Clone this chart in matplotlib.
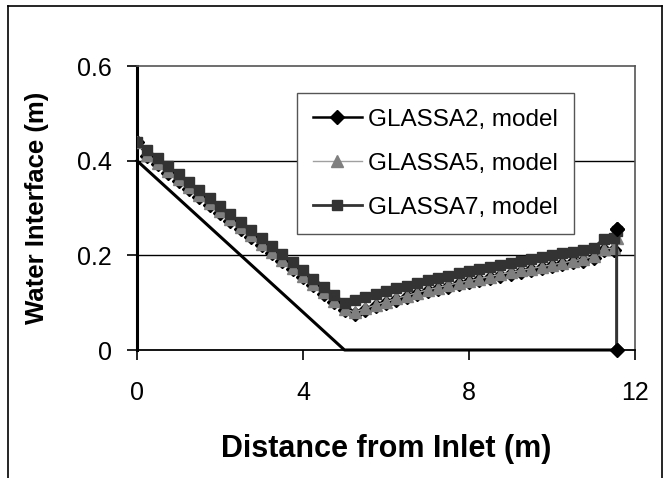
import matplotlib
matplotlib.use("Agg")
import matplotlib.pyplot as plt
from matplotlib.lines import Line2D

plt.rcParams['font.family'] = ['Liberation Sans', 'DejaVu Sans']

# distance from inlet (m)
dist = [0.0, 0.25, 0.5, 0.75, 1.0, 1.25, 1.5, 1.75, 2.0, 2.25, 2.5, 2.75, 3.0, 3.25,
        3.5, 3.75, 4.0, 4.25, 4.5, 4.75, 5.0, 5.25, 5.5, 5.75, 6.0, 6.25, 6.5, 6.75,
        7.0, 7.25, 7.5, 7.75, 8.0, 8.25, 8.5, 8.75, 9.0, 9.25, 9.5, 9.75, 10.0, 10.25,
        10.5, 10.75, 11.0, 11.25, 11.5, 11.56, 11.56]

glassa7 = [0.440, 0.423, 0.406, 0.389, 0.372, 0.355, 0.338, 0.321, 0.304, 0.287,
           0.270, 0.253, 0.236, 0.219, 0.202, 0.185, 0.168, 0.151, 0.134, 0.117,
           0.100, 0.105, 0.112, 0.118, 0.124, 0.130, 0.136, 0.142, 0.147, 0.152,
           0.157, 0.162, 0.166, 0.171, 0.175, 0.180, 0.184, 0.188, 0.192, 0.196,
           0.200, 0.204, 0.208, 0.212, 0.216, 0.235, 0.236, 0.252, 0.0]

glassa5 = [0.440, 0.413, 0.395, 0.378, 0.361, 0.344, 0.327, 0.310, 0.293, 0.276,
           0.259, 0.242, 0.225, 0.208, 0.191, 0.174, 0.157, 0.140, 0.122, 0.104,
           0.087, 0.080, 0.088, 0.095, 0.102, 0.109, 0.115, 0.121, 0.127, 0.132,
           0.137, 0.142, 0.146, 0.151, 0.155, 0.160, 0.164, 0.168, 0.172, 0.176,
           0.180, 0.184, 0.188, 0.192, 0.198, 0.214, 0.215, 0.237, 0.0]

glassa2 = [0.440, 0.410, 0.392, 0.375, 0.358, 0.341, 0.324, 0.307, 0.290, 0.273,
           0.256, 0.239, 0.222, 0.205, 0.188, 0.171, 0.154, 0.137, 0.119, 0.101,
           0.084, 0.077, 0.085, 0.092, 0.099, 0.106, 0.112, 0.118, 0.124, 0.129,
           0.134, 0.139, 0.143, 0.148, 0.152, 0.157, 0.161, 0.165, 0.169, 0.173,
           0.177, 0.181, 0.185, 0.189, 0.195, 0.211, 0.212, 0.255, 0.0]

bed_x = [0.0, 5.0, 11.56]
bed_y = [0.40, 0.0, 0.0]

x_ticks = [0, 4, 8, 12]
y_ticks = [0, 0.2, 0.4, 0.6]
y_tick_labels = ['0', '0.2', '0.4', '0.6']

fig = plt.figure(figsize=(6.65, 4.78), dpi=100)
ax = fig.add_axes([137/665, 1-350/478, (635-137)/665, (350-66)/478])

# figure border
W, H = 665, 478
fig.add_artist(Line2D([8/W, 8/W], [0, 1-6/H], transform=fig.transFigure, color='black', lw=1.2))
fig.add_artist(Line2D([8/W, 662/W], [1-6/H, 1-6/H], transform=fig.transFigure, color='black', lw=1.2))
fig.add_artist(Line2D([662/W, 662/W], [0, 1-6/H], transform=fig.transFigure, color='black', lw=1.2))

for yv in [0.2, 0.4]:
    ax.axhline(yv, color='black', lw=1.0, zorder=1)

ax.plot(bed_x, bed_y, color='black', lw=2.2, zorder=2, clip_on=False)

n = len(dist)
ax.plot(dist, glassa2, color='black', lw=1.8, marker='D', markersize=7.5,
        markerfacecolor='black', markeredgecolor='black', zorder=3, label='GLASSA2, model')
ax.plot(dist[:-1], glassa5[:-1], color='#a0a0a0', lw=1.0, marker='^', markersize=8.5,
        markerfacecolor='#7f7f7f', markeredgecolor='#7f7f7f', zorder=4, label='GLASSA5, model')
ax.plot(dist, glassa7, color='#333333', lw=2.0, marker='s', markersize=7.5,
        markerfacecolor='#333333', markeredgecolor='#333333', zorder=5,
        markevery=list(range(n-1)), label='GLASSA7, model')
# end points of GLASSA2 remain visible on top
ax.plot(dist[-2:], glassa2[-2:], linestyle='none', marker='D', markersize=7.5,
        color='black', zorder=6, clip_on=False)

ax.set_xlim(0, 12)
ax.set_ylim(0, 0.6)
ax.set_xticks(x_ticks)
ax.set_yticks(y_ticks)
ax.set_yticklabels(y_tick_labels)
ax.tick_params(axis='both', direction='out', length=7, width=1.2, labelsize=18, colors='black')
ax.tick_params(axis='x', pad=15)
ax.tick_params(axis='y', pad=11)

ax.spines['left'].set_linewidth(2.2)
ax.spines['left'].set_color('black')
ax.spines['bottom'].set_linewidth(1.3)
ax.spines['bottom'].set_color('black')
for side in ['top', 'right']:
    ax.spines[side].set_linewidth(1.2)
    ax.spines[side].set_color('#555555')

ax.set_xlabel('Distance from Inlet (m)', fontsize=22, fontweight='bold', labelpad=21)
ax.set_ylabel('Water Interface (m)', fontsize=18.5, fontweight='bold', labelpad=20)

leg = ax.legend(loc='upper left', bbox_to_anchor=(0.322, 0.905), borderaxespad=0,
                fontsize=17.5, frameon=True, fancybox=False, edgecolor='#555555',
                framealpha=1, handlelength=2.0, handletextpad=0.25, labelspacing=0.9,
                borderpad=0.65)
leg.get_frame().set_linewidth(1.0)

fig.savefig('out.png', dpi=100)
